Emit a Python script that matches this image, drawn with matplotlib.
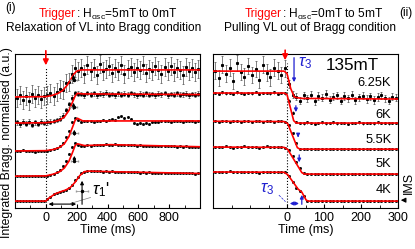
import numpy as np
import matplotlib
matplotlib.use('Agg')
import matplotlib.pyplot as plt
from matplotlib.ticker import MultipleLocator

plt.rcParams['font.family'] = ['Liberation Sans', 'DejaVu Sans']
plt.rcParams['mathtext.fontset'] = 'custom'
plt.rcParams['mathtext.rm'] = 'Liberation Sans'
plt.rcParams['mathtext.it'] = 'Liberation Sans:italic'

# ---------------- panel (i): relaxation into Bragg condition ----------------
t_left = np.arange(-190, 1000, 20)
left_offset = [3.47, 2.6, 1.67, 0.83, 0.0]
left_err = [0.3, 0.08, 0.03, 0.02, 0.02]

L1 = [-0.05, 0.08, -0.1, 0.03, -0.12, 0.1, -0.02, 0.06, -0.08, 0.04,
      0.05, 0.12, 0.02, 0.18, 0.25, 0.22, 0.45, 0.5, 0.75, 0.95, 0.85,
      0.95, 0.78, 1.05, 0.88, 0.98, 0.72, 1.1, 0.85, 0.93, 1.02,
      0.8, 0.96, 0.87, 1.08, 0.75, 0.92, 1.0, 0.83, 0.97, 0.9,
      1.06, 0.79, 0.94, 0.86, 1.03, 0.9, 0.76, 0.99, 0.88, 1.04,
      0.82, 0.95, 0.91, 0.74, 1.0, 0.87, 0.97, 0.84, 0.93]
L2 = [0.03, -0.04, 0.05, -0.02, 0.04, -0.05, 0.02, -0.03, 0.05, 0.0,
      0.03, 0.05, 0.07, 0.1, 0.15, 0.25, 0.42, 0.62, 0.85, 1.0, 0.98,
      0.97, 0.93, 1.0, 0.95, 0.99, 0.92, 0.98, 0.96, 1.01, 0.94,
      0.97, 0.93, 0.99, 0.95, 0.98, 0.94, 1.0, 0.96, 0.93, 0.98,
      0.95, 0.99, 0.94, 0.97, 0.92, 0.98, 0.96, 1.0, 0.93, 0.97,
      0.95, 0.99, 0.94, 0.96, 0.98, 0.93, 0.97, 0.95, 0.98]
L3 = [0.01, -0.01, 0.02, 0.0, -0.01, 0.01, -0.02, 0.01, 0.0, 0.01,
      0.01, 0.03, 0.06, 0.1, 0.16, 0.27, 0.45, 0.68, 0.95, 1.1, 1.02,
      0.98, 1.0, 0.99, 1.01, 0.98, 1.0, 0.99, 1.02, 1.0, 1.03,
      1.05, 1.02, 1.12, 1.15, 1.1, 1.14, 1.08, 0.92, 0.9, 0.93,
      0.89, 0.92, 0.9, 0.95, 0.97, 0.98, 1.0, 0.99, 1.01, 0.98,
      1.0, 0.99, 1.01, 0.98, 1.0, 0.99, 1.01, 0.98, 1.0]
L4 = [0.0, 0.01, -0.01, 0.01, 0.0, -0.01, 0.01, 0.0, -0.01, 0.0,
      0.02, 0.05, 0.08, 0.14, 0.22, 0.33, 0.5, 0.75, 0.98, 1.1, 1.03,
      1.02, 1.01, 1.03, 1.02, 1.04, 1.03, 1.05, 1.04, 1.06, 1.05,
      1.04, 1.06, 1.05, 1.04, 1.05, 1.03, 1.04, 1.03, 1.02, 1.03,
      1.02, 1.01, 1.02, 1.0, 1.01, 1.0, 1.01, 0.99, 1.0, 0.99,
      1.0, 0.98, 0.99, 0.98, 0.99, 0.97, 0.98, 0.97, 0.98]
L5 = [0.0, -0.01, 0.01, 0.0, 0.01, -0.01, 0.0, 0.01, 0.0, -0.01,
      0.06, 0.14, 0.22, 0.27, 0.31, 0.34, 0.37, 0.42, 0.55, 0.7, 0.8,
      0.92, 0.97, 1.0, 1.01, 1.0, 0.99, 1.0, 0.98, 0.99, 0.98,
      0.99, 0.97, 0.98, 0.97, 0.98, 0.96, 0.97, 0.96, 0.97, 0.95,
      0.96, 0.95, 0.96, 0.94, 0.95, 0.94, 0.95, 0.93, 0.94, 0.93,
      0.94, 0.93, 0.92, 0.93, 0.92, 0.93, 0.92, 0.91, 0.92]
left_data = [L1, L2, L3, L4, L5]

left_fit_t = [
    [-200, 0, 40, 80, 110, 140, 160, 180, 200, 230, 1000],
    [-200, 0, 50, 90, 120, 150, 170, 190, 205, 240, 1000],
    [-200, 0, 50, 90, 120, 150, 170, 190, 205, 240, 1000],
    [-200, 0, 50, 90, 120, 150, 170, 190, 205, 250, 420, 1000],
    [-200, 0, 20, 60, 100, 130, 160, 190, 220, 250, 280, 420, 1000],
]
left_fit_y = [
    [0, 0.01, 0.05, 0.12, 0.22, 0.4, 0.57, 0.75, 0.86, 0.9, 0.9],
    [0, 0.01, 0.04, 0.1, 0.2, 0.42, 0.66, 0.9, 0.99, 0.97, 0.95],
    [0, 0.01, 0.05, 0.12, 0.24, 0.48, 0.75, 1.02, 1.09, 1.0, 1.0],
    [0, 0.01, 0.07, 0.15, 0.27, 0.5, 0.75, 1.02, 1.08, 1.02, 1.05, 0.98],
    [0, 0.0, 0.1, 0.24, 0.32, 0.37, 0.46, 0.63, 0.85, 0.98, 1.0, 0.98, 0.92],
]

# tau1' markers: (time, arrow bottom, arrow top, dot)
tau1_t = [180, 180, 185, 185]
tau1_lo = [3.87, 2.93, 2.07, 1.2]
tau1_hi = [4.3, 3.37, 2.47, 1.6]
tau1_dot = [4.03, 3.13, 2.27, 1.33]

# ---------------- panel (ii): pulling VL out of Bragg condition ----------------
t_right = np.arange(-195, 300, 10)
right_offset = [3.4, 2.6, 1.73, 0.9, 0.0]
right_err_before = [0.28, 0.04, 0.02, 0.02, 0.02]
right_err_after = [0.12, 0.04, 0.02, 0.02, 0.02]
temps = ['6.25K', '6K', '5.5K', '5K', '4K']
temp_y = [3.93, 2.87, 2.03, 1.23, 0.37]

R1 = [0.95, 0.7, 1.15, 0.85, 1.05, 0.6, 1.2, 0.9, 0.75, 1.1,
      0.8, 1.0, 0.65, 1.15, 0.88, 0.72, 1.05, 0.95, 0.8, 1.02,
      0.5, 0.15, 0.08, -0.05, 0.12, 0.02, 0.15, -0.08, 0.1, 0.05,
      0.18, -0.02, 0.08, 0.12, -0.06, 0.1, 0.03, 0.14, -0.04, 0.06,
      0.11, 0.0, 0.09, -0.03, 0.07, 0.13, 0.02, -0.05, 0.08, 0.04]
R2 = [1.01, 0.98, 1.02, 0.99, 1.0, 0.97, 1.02, 1.0, 0.98, 1.01,
      0.99, 1.03, 0.98, 1.0, 1.01, 0.99, 1.02, 0.98, 1.0, 0.99,
      0.75, 0.35, 0.03, 0.01, -0.01, 0.02, 0.0, -0.02, 0.01, 0.02,
      -0.01, 0.0, 0.02, -0.01, 0.01, 0.0, -0.02, 0.01, 0.0, 0.02,
      -0.01, 0.01, 0.0, -0.01, 0.02, 0.0, 0.01, -0.01, 0.0, 0.01]
R3 = [0.94, 0.92, 0.93, 0.95, 0.92, 0.93, 0.94, 0.91, 0.93, 0.94,
      0.92, 0.95, 0.93, 0.92, 0.94, 0.93, 0.91, 0.94, 0.93, 0.92,
      0.8, 0.53, 0.22, 0.02, 0.0, 0.01, -0.01, 0.0, 0.01, 0.0,
      -0.01, 0.01, 0.0, 0.0, 0.01, -0.01, 0.0, 0.01, 0.0, -0.01,
      0.0, 0.01, 0.0, -0.01, 0.01, 0.0, 0.0, 0.01, -0.01, 0.0]
R4 = [0.9, 0.91, 0.89, 0.92, 0.9, 0.88, 0.91, 0.9, 0.92, 0.89,
      0.91, 0.9, 0.88, 0.91, 0.92, 0.9, 0.89, 0.91, 0.9, 0.88,
      0.8, 0.6, 0.4, 0.19, 0.02, 0.0, 0.01, -0.01, 0.0, 0.01,
      0.0, -0.01, 0.01, 0.0, 0.0, 0.01, -0.01, 0.0, 0.01, 0.0,
      -0.01, 0.0, 0.01, 0.0, -0.01, 0.01, 0.0, 0.0, 0.01, 0.0]
R5 = [0.97, 0.98, 0.96, 0.97, 0.99, 0.96, 0.97, 0.98, 0.96, 0.97,
      0.98, 0.97, 0.95, 0.97, 0.98, 0.96, 0.97, 0.98, 0.97, 0.96,
      0.85, 0.62, 0.45, 0.33, 0.17, 0.01, 0.0, 0.01, -0.01, 0.0,
      0.01, 0.0, -0.01, 0.0, 0.01, 0.0, 0.0, -0.01, 0.01, 0.0,
      0.0, 0.01, -0.01, 0.0, 0.0, 0.01, 0.0, -0.01, 0.0, 0.01]
right_data = [R1, R2, R3, R4, R5]

right_fit_t = [
    [-200, -8, 0, 10, 20, 40, 300],
    [-200, -8, 0, 18, 25, 300],
    [-200, -8, 2, 28, 35, 300],
    [-200, -8, 2, 40, 47, 300],
    [-200, -8, 2, 30, 40, 52, 58, 300],
]
right_fit_y = [
    [0.93, 0.93, 0.85, 0.35, 0.06, 0.02, 0.0],
    [1.0, 1.0, 0.95, 0.08, 0.0, 0.0],
    [0.93, 0.92, 0.85, 0.05, 0.0, 0.0],
    [0.9, 0.89, 0.82, 0.05, 0.0, 0.0],
    [0.97, 0.96, 0.88, 0.4, 0.3, 0.03, 0.0, 0.0],
]

# tau3 arrows: (time, top, bottom)
tau3_t = [19, 24, 30, 33]
tau3_hi = [4.87, 3.27, 2.3, 1.63]
tau3_lo = [3.87, 2.87, 2.03, 1.2]

YLIM = (-0.23, 4.9)
W, H = 415, 249
fig = plt.figure(figsize=(W / 100, H / 100), dpi=100)
axl = fig.add_axes([15 / W, 1 - 208 / H, 185 / W, 154 / H])
axr = fig.add_axes([213 / W, 1 - 208 / H, 185 / W, 154 / H])


def draw_trace(ax, t, y, err, noisy):
    if noisy:
        ax.errorbar(t, y, yerr=err, fmt='s', ms=1.2, mfc='k', mec='k',
                    ecolor='0.3', elinewidth=0.5, capsize=1, capthick=0.5,
                    zorder=2)
    else:
        ax.errorbar(t, y, yerr=err, fmt='s', ms=1.0, mfc='k', mec='k',
                    ecolor='0.2', elinewidth=0.6, capsize=0, zorder=2)


for i in range(5):
    y = np.array(left_data[i]) + left_offset[i]
    draw_trace(axl, t_left, y, left_err[i], i < 2)
    axl.plot(left_fit_t[i], np.array(left_fit_y[i]) + left_offset[i],
             color='red', lw=1.2, zorder=3)

for i in range(5):
    y = np.array(right_data[i]) + right_offset[i]
    err = np.where(t_right < 0, right_err_before[i], right_err_after[i])
    draw_trace(axr, t_right, y, err, i == 0)
    axr.plot(right_fit_t[i], np.array(right_fit_y[i]) + right_offset[i],
             color='red', lw=1.2, zorder=3)
    axr.text(282, temp_y[i], temps[i], ha='right', va='center', fontsize=9.3)

# axes cosmetics
for ax in (axl, axr):
    ax.set_ylim(*YLIM)
    ax.set_yticks([])
    ax.tick_params(axis='x', direction='in', length=3, labelsize=9, pad=3)
    ax.tick_params(axis='x', which='minor', direction='in', length=2)
    ax.set_xlabel('Time (ms)', fontsize=9, labelpad=0)
    for s in ax.spines.values():
        s.set_linewidth(0.8)

axl.set_xlim(-200, 1000)
axl.set_xticks([0, 200, 400, 600, 800])
axl.xaxis.set_minor_locator(MultipleLocator(100))
axr.set_xlim(-200, 300)
axr.set_xticks([0, 100, 200, 300])
axr.xaxis.set_minor_locator(MultipleLocator(50))

# trigger arrows and t=0 lines
red_arrow = dict(arrowstyle='-|>', color='red', lw=1.2, mutation_scale=8)
axl.annotate('', xy=(0, 4.43), xytext=(0, 5.1), arrowprops=red_arrow,
             annotation_clip=False)
axl.plot([0, 0], [YLIM[0], 4.43], ':', color='k', lw=0.8, zorder=1)
axr.annotate('', xy=(-5, 4.6), xytext=(-5, 5.12), arrowprops=red_arrow,
             annotation_clip=False)
axr.plot([0, 0], [YLIM[0], 4.6], ':', color='k', lw=0.8, zorder=1)

# tau1' markers
dbl = dict(arrowstyle='<|-|>', color='k', lw=0.8, mutation_scale=4)
for i in range(4):
    axl.annotate('', xy=(tau1_t[i], tau1_lo[i]), xytext=(tau1_t[i], tau1_hi[i]),
                 arrowprops=dbl, zorder=5)
    axl.errorbar(tau1_t[i], tau1_dot[i], xerr=25, fmt='o', ms=1.5, color='k',
                 ecolor='0.6', elinewidth=0.6, capsize=1, zorder=5)
axl.annotate('', xy=(235, 0.77), xytext=(235, -0.2),
             arrowprops=dict(arrowstyle='-|>', color='k', lw=0.8, mutation_scale=5),
             zorder=5)
axl.errorbar(235, 0.33, xerr=38, fmt='o', ms=1.5, color='k', ecolor='0.6',
             elinewidth=0.6, capsize=1, zorder=5)
axl.annotate('', xy=(0, -0.1), xytext=(215, -0.1), arrowprops=dict(
    arrowstyle='<|-|>', color='k', lw=0.8, mutation_scale=5), zorder=5)
axl.plot([290, 160], [0.12, -0.08], color='0.5', lw=0.5, zorder=4)
axl.text(300, 0.37, r"$\tau_1$'", fontsize=12, va='center', ha='left')

# tau3 markers
blue = '#1f1fd0'
for i in range(4):
    axr.annotate('', xy=(tau3_t[i], tau3_lo[i]), xytext=(tau3_t[i], tau3_hi[i]),
                 arrowprops=dict(arrowstyle='-|>', color=blue, lw=0.9,
                                 mutation_scale=5), zorder=5)
axr.text(30, 4.6, r'$\tau_3$', color=blue, fontsize=12, va='center')
axr.annotate('', xy=(40, 0.3), xytext=(40, -0.2), arrowprops=dict(
    arrowstyle='-|>', color=blue, lw=0.9, mutation_scale=5), zorder=5)
axr.annotate('', xy=(0, -0.08), xytext=(40, -0.08), arrowprops=dict(
    arrowstyle='<|-|>', color=blue, lw=0.9, mutation_scale=5), zorder=5)
axr.plot([-22, -4], [0.2, -0.02], '--', color=blue, lw=0.5, zorder=4)
axr.text(-72, 0.4, r'$\tau_3$', color=blue, fontsize=12, va='center')
axr.text(176, 4.53, '135mT', fontsize=12.3, ha='center', va='center')

# IMS marker
axr.annotate('', xy=(1.0, 0.03), xycoords=('axes fraction', 'data'),
             xytext=(1.045, 0.03), textcoords=('axes fraction', 'data'),
             arrowprops=dict(arrowstyle='-|>', color='k', lw=0.8, mutation_scale=7),
             annotation_clip=False)
fig.text(409 / W, 1 - 183 / H, 'IMS', rotation=90, ha='center', va='center',
         fontsize=9)

# titles
fs = 8.6
fig.text(5 / W, 1 - 8 / H, '(i)', fontsize=fs, va='center')
fig.text(76 / W, 1 - 14 / H, 'Trigger', color='red', fontsize=fs, ha='right', va='center')
fig.text(76 / W, 1 - 14 / H, r': H$_{\mathrm{osc}}$=5mT to 0mT', fontsize=fs,
         ha='left', va='center')
fig.text(104 / W, 1 - 28 / H, 'Relaxation of VL into Bragg condition', fontsize=fs,
         ha='center', va='center')
fig.text(282 / W, 1 - 14 / H, 'Trigger', color='red', fontsize=fs, ha='right', va='center')
fig.text(282 / W, 1 - 14 / H, r': H$_{\mathrm{osc}}$=0mT to 5mT', fontsize=fs,
         ha='left', va='center')
fig.text(406 / W, 1 - 13 / H, '(ii)', fontsize=fs, ha='center', va='center')
fig.text(310 / W, 1 - 28 / H, 'Pulling VL out of Bragg condition', fontsize=fs,
         ha='center', va='center')
fig.text(7 / W, 1 - 143 / H, 'Integrated Bragg. normalised (a.u.)', rotation=90,
         fontsize=8.8, ha='center', va='center')

fig.savefig('out.png', dpi=100)
